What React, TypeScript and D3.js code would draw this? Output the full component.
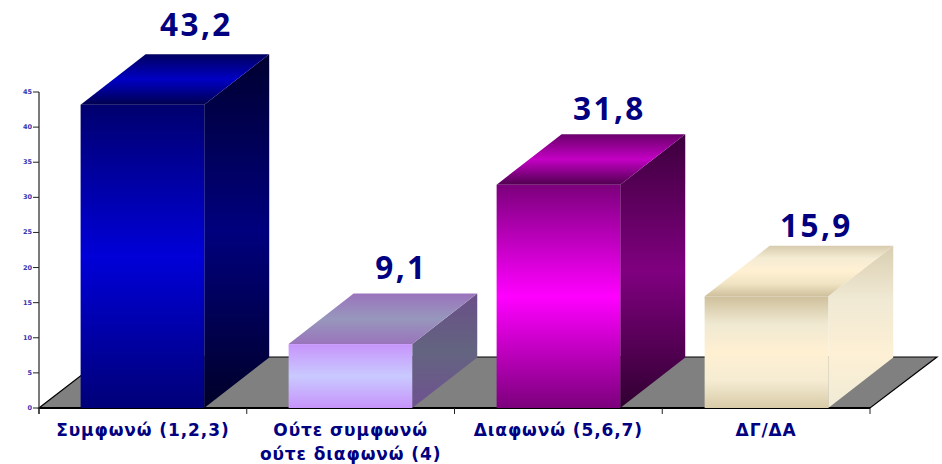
import React from "react";
import * as d3 from "d3";

const categories = ["Συμφωνώ (1,2,3)", "Ούτε συμφωνώ|ούτε διαφωνώ (4)", "Διαφωνώ (5,6,7)", "ΔΓ/ΔΑ"];
const values = [43.2, 9.1, 31.8, 15.9];
const valueLabels = ["43,2", "9,1", "31,8", "15,9"];
const yTicks = [0, 5, 10, 15, 20, 25, 30, 35, 40, 45];

const frontStops = [
  ["#00006e", "#0000d8", "#000078"],
  ["#c794fb", "#c9c9ff", "#c794fb"],
  ["#7c007c", "#ff00ff", "#7c007c"],
  ["#cfc09c", "#f0e9d2", "#fff0d2", "#f5ecd3", "#d8cba8"],
];
const sideStops = [
  ["#000030", "#00007e", "#000028"],
  ["#6a4f88", "#636480", "#6f5290"],
  ["#3c003c", "#800080", "#300030"],
  ["#d9ceb0", "#f0e9d4", "#fdf0d5", "#f0ebd6"],
];
const topStops = [
  ["#000060", "#0000c4", "#000050"],
  ["#9a74bc", "#9797bc", "#9a74bc"],
  ["#6a006a", "#c400c4", "#500050"],
  ["#d7ccae", "#f5ecd4", "#fff0d2", "#f0e4c4", "#cfc09c"],
];
const labelNudge = [18, 15, 14, 9];
const labelShift = [54, 51, 51, 50];

const W = 942, H = 464;
const left = 39, right = 870, base = 408, top45 = 92;
const depthX = 65, depthY = 50.5;

function Grad({ id, stops }: { id: string; stops: string[] }) {
  return (
    <linearGradient id={id} x1="0" y1="0" x2={0} y2={1}>
      {stops.map((c, i) => (
        <stop key={i} offset={i / (stops.length - 1)} stopColor={c} />
      ))}
    </linearGradient>
  );
}

export default function App() {
  const x = d3.scaleBand<string>().domain(categories).range([left, right]).paddingInner(0.405).paddingOuter(0.2);
  const step = (right - left) / categories.length;
  const y = d3.scaleLinear().domain([0, 45]).range([base, top45]);
  const barW = step * 0.595;
  const font = "'DejaVu Sans', sans-serif";
  const navy = "#000080";

  return (
    <svg width={W} height={H} viewBox={`0 0 ${W} ${H}`} style={{ position: "absolute", left: 0, top: 0, background: "#fff" }}>
      <defs>
        {values.map((_, i) => (
          <React.Fragment key={i}>
            <Grad id={`f${i}`} stops={frontStops[i]} />
            <Grad id={`s${i}`} stops={sideStops[i]} />
            <Grad id={`t${i}`} stops={topStops[i]} />
          </React.Fragment>
        ))}
      </defs>

      <path
        d={`M${left},${base}L${right},${base}L${right + depthX + 2},${base - depthY - 0.5}L${left + depthX + 1},${base - depthY - 0.5}Z`}
        fill="#808080"
        stroke="#000"
        strokeWidth={1.2}
      />
      <line x1={left} x2={right} y1={base} y2={base} stroke="#000" strokeWidth={2} />

      <line x1={left} x2={left} y1={top45} y2={base + 6} stroke="#222" strokeWidth={1.2} />
      {yTicks.map((t) => (
        <g key={t}>
          <line x1={left - 6} x2={left} y1={y(t)} y2={y(t)} stroke="#222" strokeWidth={1} />
          <text x={left - 7} y={y(t) + 2} textAnchor="end" fontFamily={font} fontWeight="bold" fontSize={6.5} fill="#3535b0">
            {t}
          </text>
        </g>
      ))}
      {d3.range(categories.length + 1).map((i) => (
        <line key={i} x1={left + step * i} x2={left + step * i} y1={base} y2={base + 6} stroke="#222" strokeWidth={1} />
      ))}

      {categories.map((c, i) => {
        const bx = x(c)!;
        const ty = y(values[i]);
        const lines = c.split("|");
        return (
          <g key={c}>
            <path d={`M${bx + barW},${ty}L${bx + barW + depthX},${ty - depthY}L${bx + barW + depthX},${base - depthY}L${bx + barW},${base}Z`} fill={`url(#s${i})`} />
            <path d={`M${bx},${ty}L${bx + depthX},${ty - depthY}L${bx + barW + depthX},${ty - depthY}L${bx + barW},${ty}Z`} fill={`url(#t${i})`} />
            <rect x={bx} y={ty} width={barW} height={base - ty} fill={`url(#f${i})`} />
            <text
              x={bx + barW / 2 + labelShift[i]}
              y={ty - depthY - labelNudge[i]}
              textAnchor="middle"
              fontFamily="'Noto Sans', sans-serif"
              fontWeight="bold"
              fontSize={31.5}
              letterSpacing={2.4}
              fill={navy}
            >
              {valueLabels[i]}
            </text>
            {lines.map((l, k) => (
              <text
                key={k}
                x={left + step * (i + 0.5)}
                y={436 + k * 24}
                textAnchor="middle"
                fontFamily={font}
                fontWeight="bold"
                fontSize={17}
                letterSpacing={0.9}
                fill={navy}
              >
                {l}
              </text>
            ))}
          </g>
        );
      })}
    </svg>
  );
}
